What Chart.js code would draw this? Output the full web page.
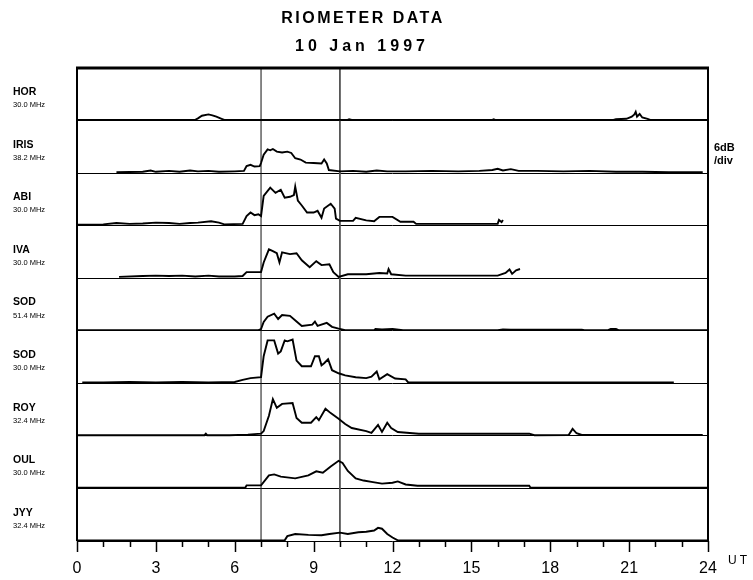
<!DOCTYPE html>
<html>
<head>
<meta charset="utf-8">
<script src="https://cdn.jsdelivr.net/npm/chart.js@4.4.1/dist/chart.umd.min.js"></script>
<style>
  html, body { margin: 0; padding: 0; background: #fff; }
  #wrap { width: 753px; height: 580px; }
</style>
</head>
<body>
<div id="wrap"><canvas id="c" width="753" height="580"></canvas></div>
<script>
// ---- Data (hours UT, absorption in dB; 6 dB/div, 2 div per panel) ----
const stationNames = ['HOR', 'IRIS', 'ABI', 'IVA', 'SOD', 'SOD', 'ROY', 'OUL', 'JYY'];
const stationFreqs = ['30.0 MHz', '38.2 MHz', '30.0 MHz', '30.0 MHz', '51.4 MHz', '30.0 MHz', '32.4 MHz', '30.0 MHz', '32.4 MHz'];
const dbPerDiv = 6;
const divsPerPanel = 2;
const xTickLabels = [0, 3, 6, 9, 12, 15, 18, 21, 24];
const markerHours = [7.0, 10.0];

const HOR = [[0,0.15],[4.5,0.15],[4.6,0.5],[4.75,1.1],[5.0,1.4],[5.15,1.2],[5.3,0.9],[5.5,0.4],[5.6,0.15],[10.3,0.15],[10.35,0.3],[10.45,0.15],[15.8,0.15],[15.85,0.3],[15.9,0.15],[20.4,0.15],[20.5,0.3],[20.9,0.4],[21.1,0.9],[21.2,1.4],[21.25,2.0],[21.3,0.9],[21.4,1.5],[21.5,0.7],[21.7,0.4],[21.8,0.15],[24,0.15]];
const IRIS = [[1.5,0.2],[2.5,0.3],[2.8,0.6],[3.0,0.3],[3.5,0.5],[3.9,0.3],[4.3,0.6],[4.6,0.4],[5.0,0.5],[5.4,0.3],[6.0,0.4],[6.35,0.5],[6.45,1.6],[6.6,1.9],[6.75,1.5],[6.95,1.6],[7.0,2.3],[7.1,4.2],[7.25,5.4],[7.35,5.2],[7.45,5.5],[7.6,4.9],[7.8,4.7],[8.0,4.9],[8.15,4.6],[8.3,3.4],[8.5,3.1],[8.7,2.4],[9.0,2.3],[9.3,2.2],[9.4,3.1],[9.5,2.2],[9.58,0.7],[10.0,0.4],[10.5,0.5],[11.0,0.3],[11.4,0.6],[11.8,0.4],[12.5,0.4],[13.5,0.5],[14.5,0.4],[15.3,0.5],[15.8,0.7],[16.0,1.0],[16.2,0.6],[16.5,0.9],[16.8,0.5],[17.5,0.5],[18.5,0.4],[19.5,0.5],[20.5,0.3],[21.5,0.3],[22.5,0.2],[23.8,0.2]];
const ABI = [[0,0.2],[1.0,0.3],[1.5,0.6],[2.0,0.4],[2.5,0.5],[3.0,0.7],[3.5,0.6],[3.9,0.4],[4.3,0.6],[4.6,0.7],[5.1,1.0],[5.4,0.7],[5.6,0.3],[6.3,0.4],[6.45,2.2],[6.6,3.0],[6.75,2.4],[6.9,2.6],[7.0,2.2],[7.1,6.8],[7.35,8.7],[7.55,7.5],[7.75,8.2],[7.9,6.4],[8.1,6.6],[8.25,7.0],[8.3,8.9],[8.4,5.7],[8.55,4.6],[8.75,3.0],[9.0,3.0],[9.15,3.4],[9.3,1.8],[9.4,3.9],[9.65,5.0],[9.8,3.9],[9.85,1.6],[10.0,1.1],[10.5,1.1],[10.6,1.8],[11.0,1.2],[11.3,1.0],[11.5,2.0],[12.0,2.0],[12.3,0.9],[12.8,0.9],[12.9,0.4],[16.0,0.4],[16.05,1.3],[16.15,0.8],[16.2,1.3]];
const IVA = [[1.6,0.3],[2.5,0.5],[3.0,0.6],[3.5,0.5],[4.0,0.6],[4.5,0.4],[5.0,0.6],[5.4,0.4],[6.0,0.4],[6.3,0.5],[6.45,1.4],[7.0,1.4],[7.1,3.6],[7.3,6.6],[7.45,6.2],[7.6,5.7],[7.7,3.6],[7.8,5.9],[8.1,5.5],[8.35,5.7],[8.55,4.1],[8.85,2.5],[9.1,3.9],[9.3,3.0],[9.6,3.2],[9.75,1.4],[9.95,0.3],[10.3,0.9],[11.0,0.9],[11.5,1.2],[11.8,1.1],[11.85,2.1],[11.95,0.9],[12.5,0.6],[14.0,0.6],[16.0,0.6],[16.3,1.2],[16.45,2.0],[16.55,1.0],[16.7,1.8],[16.85,2.1]];
const SOD51 = [[0,0.15],[6.9,0.15],[7.0,0.4],[7.1,2.0],[7.25,3.2],[7.5,3.9],[7.65,2.7],[7.8,3.6],[8.1,3.4],[8.35,2.1],[8.55,1.1],[8.95,1.4],[9.05,2.1],[9.15,1.1],[9.5,1.8],[9.7,0.9],[9.95,0.5],[10.2,0.15],[11.3,0.15],[11.35,0.4],[11.6,0.3],[12.0,0.4],[12.4,0.15],[16.0,0.15],[16.2,0.3],[16.5,0.25],[19.2,0.25],[19.3,0.15],[20.2,0.15],[20.3,0.4],[20.5,0.4],[20.6,0.15],[24,0.15]];
const SOD30 = [[0.2,0.2],[1.0,0.2],[2.0,0.3],[3.0,0.2],[4.0,0.3],[5.0,0.2],[6.0,0.3],[6.3,0.8],[6.6,1.2],[7.0,1.4],[7.1,6.2],[7.25,9.8],[7.5,9.8],[7.65,6.8],[7.75,7.3],[7.9,9.8],[8.0,9.6],[8.2,10.0],[8.35,5.2],[8.55,3.9],[8.9,3.9],[9.05,6.2],[9.2,6.2],[9.3,4.1],[9.4,4.6],[9.55,5.5],[9.7,3.0],[9.95,2.3],[10.2,1.8],[10.6,1.4],[11.0,1.2],[11.2,1.5],[11.4,2.7],[11.5,0.9],[11.8,2.1],[12.1,1.1],[12.5,0.9],[12.6,0.2],[22.7,0.2]];
const ROY = [[0,0.15],[4.85,0.15],[4.9,0.5],[4.95,0.15],[5.8,0.15],[6.5,0.3],[7.0,0.5],[7.1,1.1],[7.3,4.6],[7.45,8.4],[7.6,6.4],[7.8,7.3],[8.2,7.5],[8.35,4.1],[8.55,3.0],[8.9,3.0],[9.1,4.3],[9.2,3.6],[9.45,6.2],[9.65,5.2],[9.95,3.9],[10.2,2.7],[10.45,1.8],[11.0,1.1],[11.2,0.7],[11.45,2.5],[11.6,0.9],[11.8,3.0],[11.95,1.8],[12.2,0.9],[13.0,0.5],[17.2,0.5],[17.4,0.15],[18.7,0.2],[18.85,1.6],[19.0,0.6],[19.2,0.2],[23.8,0.2]];
const OUL = [[0,0.15],[6.4,0.15],[6.45,0.7],[7.0,0.7],[7.3,3.0],[7.5,3.2],[7.75,2.7],[8.3,2.3],[8.8,3.0],[9.1,3.9],[9.35,3.6],[9.65,5.0],[9.95,6.3],[10.1,5.8],[10.3,4.0],[10.6,2.3],[10.9,1.8],[11.2,1.5],[11.6,1.1],[12.0,1.3],[12.2,1.6],[12.5,0.9],[12.95,0.6],[17.2,0.6],[17.25,0.15],[24,0.15]];
const JYY = [[0,0.15],[7.9,0.15],[8.0,1.1],[8.3,1.6],[8.8,1.4],[9.3,1.3],[9.6,1.6],[10.0,1.9],[10.3,1.6],[10.7,2.0],[11.0,2.1],[11.3,2.4],[11.45,3.0],[11.6,2.8],[11.8,1.6],[12.0,0.8],[12.2,0.15],[24,0.15]];

const series = [HOR, IRIS, ABI, IVA, SOD51, SOD30, ROY, OUL, JYY];
const nPanels = series.length;
const dbPerPanel = dbPerDiv * divsPerPanel;

const datasets = series.map((arr, i) => ({
  label: stationNames[i] + ' ' + stationFreqs[i],
  data: arr.map(([t, v]) => ({ x: t, y: (nPanels - 1 - i) + v / dbPerPanel })),
  borderColor: '#000',
  borderWidth: 1.9,
  pointRadius: 0,
  tension: 0,
  fill: false
}));
markerHours.forEach((h, k) => {
  datasets.push({
    label: 'marker ' + h,
    data: [{ x: h, y: 0 }, { x: h, y: nPanels }],
    borderColor: k === 0 ? '#111' : '#555',
    borderWidth: k === 0 ? 1 : 1.8,
    pointRadius: 0,
    fill: false
  });
});

const decor = {
  id: 'decor',
  afterDraw(chart) {
    const ctx = chart.ctx;
    const a = chart.chartArea;
    const xs = chart.scales.x, ys = chart.scales.y;
    ctx.save();
    ctx.strokeStyle = '#000';
    // frame
    ctx.lineWidth = 3;
    ctx.beginPath(); ctx.moveTo(a.left - 1, a.top); ctx.lineTo(a.right + 1, a.top); ctx.stroke();
    ctx.lineWidth = 2;
    ctx.beginPath(); ctx.moveTo(a.left, a.top); ctx.lineTo(a.left, a.bottom); ctx.stroke();
    ctx.beginPath(); ctx.moveTo(a.right, a.top); ctx.lineTo(a.right, a.bottom); ctx.stroke();
    // hour ticks
    ctx.lineWidth = 1.5;
    for (let h = 0; h <= 24; h++) {
      const px = Math.round(xs.getPixelForValue(h)) + 0.5;
      const len = (h % 3 === 0) ? 11 : 6;
      ctx.beginPath(); ctx.moveTo(px, a.bottom); ctx.lineTo(px, a.bottom + len); ctx.stroke();
    }
    // station labels
    ctx.fillStyle = '#000';
    ctx.textBaseline = 'middle';
    ctx.textAlign = 'left';
    for (let i = 0; i < nPanels; i++) {
      const yc = (ys.getPixelForValue(nPanels - i) + ys.getPixelForValue(nPanels - 1 - i)) / 2;
      ctx.font = 'bold 10.5px "Liberation Sans", Arial, sans-serif';
      ctx.fillText(stationNames[i], 13, yc - 2);
      ctx.font = '7.5px "Liberation Sans", Arial, sans-serif';
      ctx.fillText(stationFreqs[i], 13, yc + 11);
    }
    // titles
    ctx.textAlign = 'center';
    ctx.font = 'bold 16px "Liberation Sans", Arial, sans-serif';
    ctx.letterSpacing = '2.5px';
    ctx.fillText('RIOMETER DATA', 363, 19);
    ctx.letterSpacing = '4px';
    ctx.fillText('10 Jan 1997', 362, 46.5);
    // scale note
    ctx.textAlign = 'left';
    ctx.letterSpacing = '0px';
    ctx.font = 'bold 11px "Liberation Sans", Arial, sans-serif';
    ctx.fillText(dbPerDiv + 'dB', 714, 148);
    ctx.fillText('/div', 714, 161);
    ctx.font = '12px "Liberation Sans", Arial, sans-serif';
    ctx.letterSpacing = '3px';
    ctx.fillText('UT', 728, 560.5);
    ctx.restore();
  }
};

new Chart(document.getElementById('c'), {
  type: 'line',
  data: { datasets },
  options: {
    responsive: false,
    animation: false,
    events: [],
    layout: { padding: { left: 77, right: 45, top: 68, bottom: 0 } },
    plugins: { legend: { display: false }, title: { display: false }, tooltip: { enabled: false } },
    scales: {
      x: {
        type: 'linear',
        min: 0, max: 24,
        afterFit: s => { s.height = 39; },
        border: { display: false },
        grid: { display: false, drawTicks: false },
        afterBuildTicks: s => { s.ticks = xTickLabels.map(v => ({ value: v })); },
        ticks: {
          padding: 18,
          color: '#000',
          maxRotation: 0,
          autoSkip: false,
          font: { family: '"Liberation Sans Narrow", "Liberation Sans", Arial, sans-serif', size: 16 }
        }
      },
      y: {
        type: 'linear',
        min: 0, max: nPanels,
        afterFit: s => { s.width = 0; },
        border: { display: false },
        grid: { color: '#000', lineWidth: 1, drawTicks: false },
        ticks: { display: false, stepSize: 1 }
      }
    }
  },
  plugins: [decor]
});
</script>
</body>
</html>
